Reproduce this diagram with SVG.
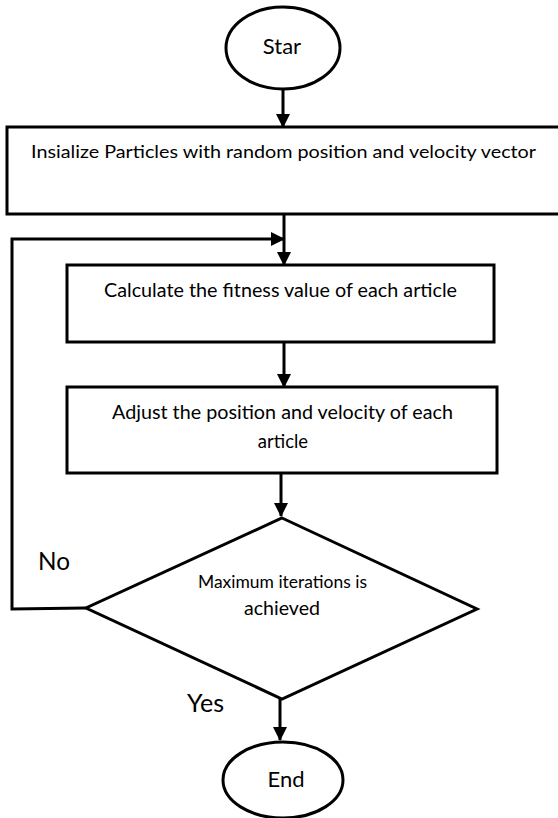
<svg xmlns="http://www.w3.org/2000/svg" width="558" height="818" viewBox="0 0 558 818">
  <style>
    .shape { fill: #ffffff; stroke: #000000; stroke-width: 3; }
    .conn { fill: none; stroke: #000000; stroke-width: 3; }
    text { font-family: Lato, "Open Sans", "Liberation Sans", sans-serif; fill: #000000; }
  </style>
  <defs>
    <marker id="arrow" markerUnits="userSpaceOnUse" markerWidth="14" markerHeight="14" refX="13" refY="7" orient="auto">
      <path d="M0,0 L14,7 L0,14 Z" fill="#000000"/>
    </marker>
  </defs>
  <rect width="558" height="818" fill="#ffffff"/>

  <g id="connectors">
    <line class="conn" x1="283" y1="89" x2="283" y2="127" marker-end="url(#arrow)"/>
    <line class="conn" x1="284" y1="214" x2="284" y2="265" marker-end="url(#arrow)"/>
    <line class="conn" x1="284" y1="342" x2="284" y2="387" marker-end="url(#arrow)"/>
    <line class="conn" x1="281" y1="473" x2="281" y2="516" marker-end="url(#arrow)"/>
    <line class="conn" x1="280" y1="699" x2="280" y2="740" marker-end="url(#arrow)"/>
    <polyline class="conn" points="86,608 12,609 12,239 284,239" marker-end="url(#arrow)"/>
    <text x="38" y="570" font-size="25" textLength="32" lengthAdjust="spacingAndGlyphs">No</text>
    <text x="187" y="712" font-size="25" textLength="37" lengthAdjust="spacingAndGlyphs">Yes</text>
  </g>

  <g id="start">
    <ellipse class="shape" cx="283" cy="48" rx="57" ry="41"/>
    <text x="282" y="54" font-size="22" text-anchor="middle">Star</text>
  </g>

  <g id="init">
    <rect class="shape" x="7" y="127" width="554" height="87"/>
    <text x="31" y="158" font-size="18" textLength="505" lengthAdjust="spacingAndGlyphs">Insialize Particles with random position and velocity vector</text>
  </g>

  <g id="fitness">
    <rect class="shape" x="67" y="265" width="427" height="77"/>
    <text x="104" y="297" font-size="18.5" textLength="353" lengthAdjust="spacingAndGlyphs">Calculate the fitness value of each article</text>
  </g>

  <g id="adjust">
    <rect class="shape" x="67" y="387" width="430" height="86"/>
    <text x="112" y="419" font-size="18.5" textLength="341" lengthAdjust="spacingAndGlyphs">Adjust the position and velocity of each</text>
    <text x="283" y="448" font-size="18.5" text-anchor="middle">article</text>
  </g>

  <g id="decision">
    <polygon class="shape" points="282,518 477,609 282,699 86,608"/>
    <text x="198" y="588" font-size="16.5" textLength="169" lengthAdjust="spacingAndGlyphs">Maximum iterations is</text>
    <text x="244" y="615" font-size="19" textLength="76" lengthAdjust="spacingAndGlyphs">achieved</text>
  </g>

  <g id="end">
    <ellipse class="shape" cx="283" cy="780" rx="60" ry="38"/>
    <text x="286" y="787" font-size="22" text-anchor="middle">End</text>
  </g>
</svg>
